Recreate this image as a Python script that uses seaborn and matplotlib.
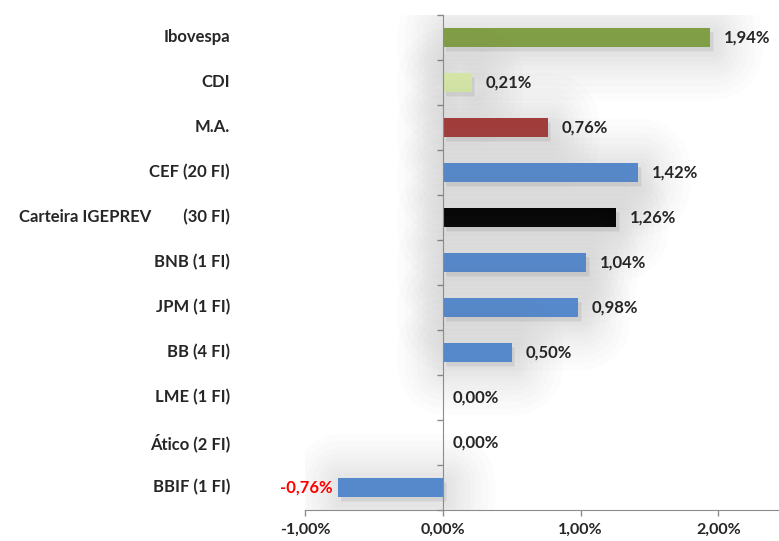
import matplotlib
matplotlib.use("Agg")
import matplotlib.pyplot as plt
import matplotlib.patheffects as pe
import matplotlib.transforms as mtransforms
from matplotlib.ticker import FuncFormatter, FixedLocator
import pandas as pd
import seaborn as sns

categorias = ["Ibovespa", "CDI", "M.A.", "CEF (20 FI)", "Carteira IGEPREV        (30 FI)",
              "BNB (1 FI)", "JPM (1 FI)", "BB (4 FI)", "LME (1 FI)", "Ático (2 FI)", "BBIF (1 FI)"]
retornos = [1.94, 0.21, 0.76, 1.42, 1.26, 1.04, 0.98, 0.50, 0.00, 0.00, -0.76]
cores = ["#809E45", "#D5E6A6", "#A13C3A", "#5689CB", "#050505",
         "#5689CB", "#5689CB", "#5689CB", "#5689CB", "#5689CB", "#5689CB"]
xticks = [-1.0, 0.0, 1.0, 2.0]

df = pd.DataFrame({"cat": categorias, "ret": retornos})

sns.set_style("white")
plt.rcParams["font.family"] = ["Lato", "DejaVu Sans"]

fig = plt.figure(figsize=(7.79, 5.41), dpi=100)
ax = fig.add_axes([0.3915, 0.0573, 0.6085, 0.915])

sns.barplot(data=df, x="ret", y="cat", hue="cat", palette=cores, legend=False,
            orient="h", width=0.42, ax=ax, saturation=1)

# sombra difusa atras das barras (varias camadas bem transparentes)
sombra = [pe.SimplePatchShadow(offset=(2, -3), shadow_rgbFace="0.5", alpha=0.018,
                               foreground="0.5", linewidth=lw, joinstyle="round")
          for lw in (70, 60, 50, 42, 34, 27, 20, 14, 8)]
for p, v in zip(ax.patches, retornos):
    p.set_edgecolor("none")
    if v != 0:
        p.set_path_effects(sombra + [pe.Normal()])

ax.set_xlim(-1.0, 2.44)
ax.set_ylim(10.5, -0.5)
ax.set_xlabel("")
ax.set_ylabel("")

# eixo vertical no zero
for s in ["top", "right"]:
    ax.spines[s].set_visible(False)
ax.spines["left"].set_position(("data", 0))
ax.spines["left"].set_color("#8C8C8C")
ax.spines["bottom"].set_color("#8C8C8C")
ax.yaxis.set_major_locator(FixedLocator([i + 0.5 for i in range(-1, len(categorias))]))
ax.set_yticklabels([])
ax.tick_params(axis="y", direction="out", length=4, width=1, color="#8C8C8C", left=True)

ax.xaxis.set_major_locator(FixedLocator(xticks))
ax.xaxis.set_major_formatter(FuncFormatter(lambda v, _: f"{v:.2f}%".replace(".", ",")))
ax.tick_params(axis="x", direction="out", length=4, width=1, color="#8C8C8C",
               bottom=True, labelsize=11.5, pad=5)
for t in ax.get_xticklabels():
    t.set_fontweight("bold")
    t.set_color("#262626")

# nomes das categorias
trans = mtransforms.blended_transform_factory(ax.transAxes, ax.transData)
for i, c in enumerate(categorias):
    ax.text(-0.158, i, c, transform=trans, ha="right", va="center",
            fontsize=12, fontweight="bold", color="#262626")

# rotulos de valor
for i, v in enumerate(retornos):
    txt = f"{v:.2f}%".replace(".", ",")
    if v < 0:
        ax.annotate(txt, (v, i), xytext=(-4, 0), textcoords="offset points",
                    ha="right", va="center", fontsize=12, fontweight="bold", color="#FF0000")
    else:
        ax.annotate(txt, (v, i), xytext=(10, 0) if v > 0 else (7, 0),
                    textcoords="offset points", ha="left", va="center",
                    fontsize=12, fontweight="bold", color="#262626")

fig.savefig("out.png", dpi=100)
